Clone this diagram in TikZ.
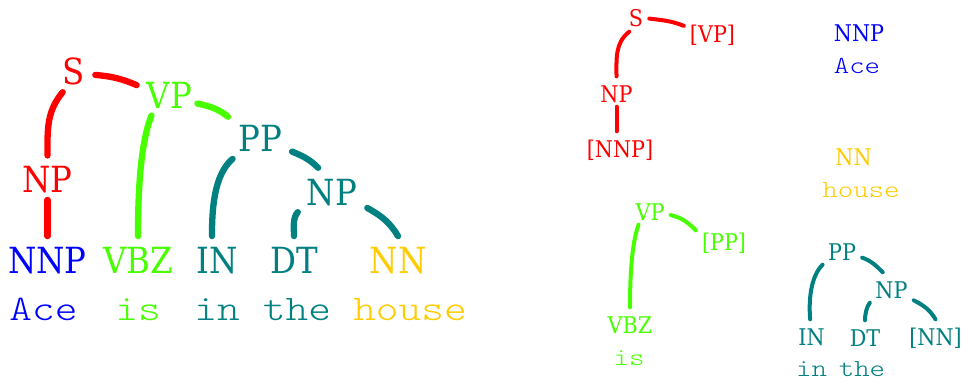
\documentclass[tikz,border=0pt]{standalone}
\usepackage{fontspec}
\newfontfamily\catfont{DejaVu Serif}[FakeStretch=0.9]
\newfontfamily\wordfont{lmmonolt10-regular.otf}[FakeStretch=1.2]
\definecolor{tRed}{RGB}{255,0,0}
\definecolor{tGreen}{RGB}{72,255,0}
\definecolor{tTeal}{RGB}{0,128,128}
\definecolor{tBlue}{RGB}{0,0,255}
\definecolor{tGold}{RGB}{255,204,0}
\tikzset{
  bigcat/.style={font=\catfont\fontsize{36pt}{40pt}\selectfont, anchor=base,
    text height=30pt, text depth=0pt, inner xsep=10pt, inner ysep=7pt},
  smallcat/.style={font=\catfont\fontsize{23pt}{26pt}\selectfont, anchor=base,
    text height=21pt, text depth=0pt, inner xsep=6pt, inner ysep=4.5pt},
  bigword/.style={font=\wordfont\fontsize{36pt}{40pt}\selectfont, anchor=base, inner sep=0pt},
  smallword/.style={font=\wordfont\fontsize{24.5pt}{28pt}\selectfont, anchor=base, inner sep=0pt},
  bigedge/.style={line width=6.3pt, line cap=round},
  smalledge/.style={line width=4pt, line cap=round}
}
\begin{document}
\begin{tikzpicture}[x=1pt, y=1pt]
\fill[white] (0,0) rectangle (966,381);
\useasboundingbox (0,0) rectangle (966,381);

% ---- full parse tree ----
\node[bigcat, text=tRed]   (bS)   at (74,296)    {S};
\node[bigcat, text=tGreen] (bVP)  at (169.5,272.7) {VP};
\node[bigcat, text=tTeal]  (bPP)  at (260,229.3) {PP};
\node[bigcat, text=tRed]   (bNPa) at (47.5,188.3) {NP};
\node[bigcat, text=tTeal]  (bNPb) at (332,176)   {NP};
\node[bigcat, text=tBlue]  (bNNP) at (47.5,107.7) {NNP};
\node[bigcat, text=tGreen] (bVBZ) at (138,107.7) {VBZ};
\node[bigcat, text=tTeal]  (bIN)  at (217.5,107.7) {IN};
\node[bigcat, text=tTeal]  (bDT)  at (294,107.7) {DT};
\node[bigcat, text=tGold]  (bNN)  at (398,107.7) {NN};

\node[bigword, text=tBlue]  (bwAce)   at (43.5,61) {Ace};
\node[bigword, text=tGreen] (bwIs)    at (138,61)  {is};
\node[bigword, text=tTeal]  (bwIn)    at (217,61)  {in};
\node[bigword, text=tTeal]  (bwThe)   at (297,61)  {the};
\node[bigword, text=tGold]  (bwHouse) at (410,61)  {house};

\draw[bigedge, tRed] (bS.-117) to[out=230,in=90] (bNPa.north);
\draw[bigedge, tRed] (bS.-13) to[out=-5,in=157] (bVP.166);
\draw[bigedge, tRed] (bNPa.south) -- (bNNP.north);
\draw[bigedge, tGreen] (bVP.-129) to[out=248,in=90,looseness=0.7] (bVBZ.north);
\draw[bigedge, tGreen, shorten <=-5pt] (bVP.-19) to[out=-12,in=142] (bPP.148);
\draw[bigedge, tTeal] (bPP.-141) to[out=220,in=90,looseness=0.8] (bIN.104);
\draw[bigedge, tTeal] (bPP.-25) to[out=-22,in=135] (bNPb.122);
\draw[bigedge, tTeal] (bNPb.-147) to[out=225,in=90,looseness=0.8] (bDT.north);
\draw[bigedge, tTeal] (bNPb.-27) to[out=-29,in=121] (bNN.north);

% ---- fragment: S ----
\node[smallcat, text=tRed] (aS)   at (636,354)   {S};
\node[smallcat, text=tRed] (aVP)  at (712.5,338) {[VP]};
\node[smallcat, text=tRed] (aNP)  at (616.5,279) {NP};
\node[smallcat, text=tRed] (aNNP) at (620,224)   {[NNP]};
\draw[smalledge, tRed] (aS.-114) to[out=218,in=90] (aNP.north);
\draw[smalledge, tRed] (aS.-9) to[out=-7,in=158] (aVP.167);
\draw[smalledge, tRed] (aNP.south) -- (aNP.south |- aNNP.north);

% ---- fragment: NNP ----
\node[smallcat, text=tBlue] (cNNP) at (859,339) {NNP};
\node[smallword, text=tBlue] (cAce) at (857,307) {Ace};

% ---- fragment: NN ----
\node[smallcat, text=tGold] (dNN) at (853.5,216) {NN};
\node[smallword, text=tGold] (dHouse) at (861,184) {house};

% ---- fragment: VP ----
\node[smallcat, text=tGreen] (eVP)  at (650,161)   {VP};
\node[smallcat, text=tGreen] (ePP)  at (724,130.5) {[PP]};
\node[smallcat, text=tGreen] (eVBZ) at (630,48)    {VBZ};
\node[smallword, text=tGreen] (eIs) at (629,16)    {is};
\draw[smalledge, tGreen] (eVP.-127) to[out=250,in=90,looseness=0.7] (eVBZ.north);
\draw[smalledge, tGreen] (eVP.-15) to[out=-14,in=135] (ePP.161);

% ---- fragment: PP ----
\node[smallcat, text=tTeal] (fPP) at (842,121)  {PP};
\node[smallcat, text=tTeal] (fNP) at (891.5,83) {NP};
\node[smallcat, text=tTeal] (fIN) at (811.5,36) {IN};
\node[smallcat, text=tTeal] (fDT) at (865,35)   {DT};
\node[smallcat, text=tTeal] (fNN) at (935.5,36) {[NN]};
\node[smallword, text=tTeal] (fIn)  at (811.5,5) {in};
\node[smallword, text=tTeal] (fThe) at (862,5)   {the};
\draw[smalledge, tTeal] (fPP.-142) to[out=225,in=95,looseness=0.8] (fIN.95);
\draw[smalledge, tTeal] (fPP.-22) to[out=-20,in=135] (fNP.120);
\draw[smalledge, tTeal] (fNP.-145) to[out=233,in=90,looseness=0.8] (fDT.north);
\draw[smalledge, tTeal] (fNP.-30) to[out=-27,in=121] (fNN.north);
\end{tikzpicture}
\end{document}
